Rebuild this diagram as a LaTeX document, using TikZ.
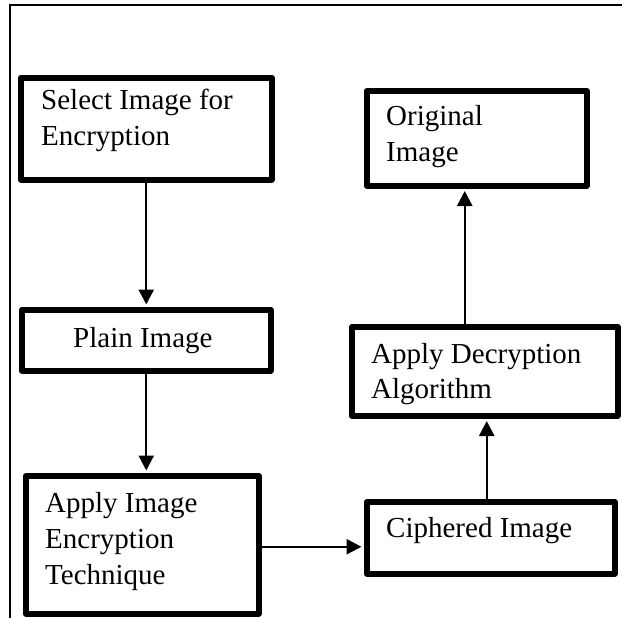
\documentclass[tikz,border=0pt]{standalone}
\usepackage{fontspec}
\setmainfont{Liberation Serif}
\usetikzlibrary{arrows.meta,calc}
\tikzset{
  stage/.style={draw, line width=5.5pt, line join=round, inner sep=0pt, anchor=north west},
  link/.style={line width=2.4pt, -{Triangle[length=15pt,width=15pt]}, shorten >=2.5pt},
  lbl/.style={anchor=base west, inner sep=0pt, font=\fontsize{29}{35}\selectfont},
  frameline/.style={line width=1.6pt}
}
\begin{document}
\begin{tikzpicture}[x=1pt,y=-1pt]
  \useasboundingbox (0,0) rectangle (622,619);
  % open page frame: top and left edges only
  \coordinate (ftr) at (622,5);
  \coordinate (ftl) at (10,5);
  \coordinate (fbl) at (10,618);
  \draw[frameline] (ftr) -- (ftl) -- (fbl);

  % process boxes (top-left corner, size)
  \node[stage, minimum width=251pt, minimum height=102pt] (sel)   at (18,75)   {};
  \node[stage, minimum width=249pt, minimum height=61pt]  (plain) at (19,307)  {};
  \node[stage, minimum width=233pt, minimum height=138pt] (enc)   at (23,473)  {};
  \node[stage, minimum width=248pt, minimum height=72pt]  (ciph)  at (364,499) {};
  \node[stage, minimum width=266pt, minimum height=89pt]  (dec)   at (349,324) {};
  \node[stage, minimum width=220pt, minimum height=95pt]  (orig)  at (364,88)  {};

  % box texts
  \node[lbl] (t1a) at (41,109) {Select Image for};
  \node[lbl] (t1b) at (41,145) {Encryption};
  \node[lbl] (t2)  at (73,347) {Plain Image};
  \node[lbl] (t3a) at (45,512) {Apply Image};
  \node[lbl] (t3b) at (45,548) {Encryption};
  \node[lbl] (t3c) at (45,584) {Technique};
  \node[lbl] (t4)  at (386,537) {Ciphered Image};
  \node[lbl] (t5a) at (371,363) {Apply Decryption};
  \node[lbl] (t5b) at (371,398) {Algorithm};
  \node[lbl] (t6a) at (386,125) {Original};
  \node[lbl] (t6b) at (386,161) {Image};

  % flow
  \draw[link] (sel.south) -- (plain.north);
  \draw[link] (plain.south) -- (plain.south |- enc.north);
  \draw[link] ([yshift=-2pt]enc.east) -- ([yshift=-2pt]enc.east -| ciph.west);
  \draw[link] ([xshift=-4pt]ciph.north) -- ([xshift=-4pt]ciph.north |- dec.south);
  \draw[link] ([xshift=-20pt]dec.north) -- ([xshift=-20pt]dec.north |- orig.south);
\end{tikzpicture}
\end{document}
